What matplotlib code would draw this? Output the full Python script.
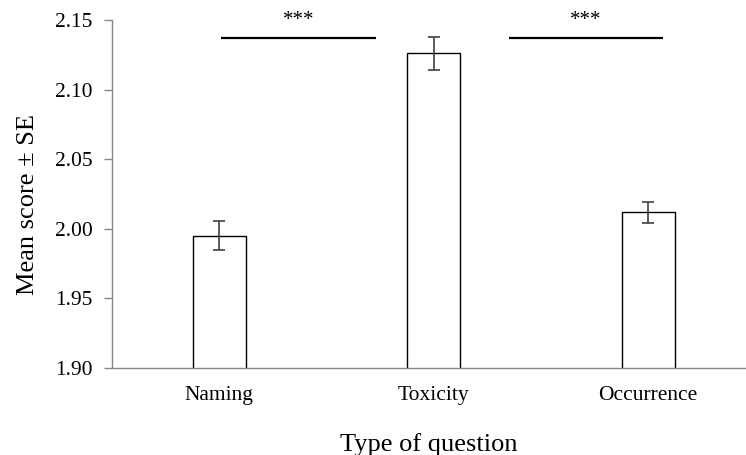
import matplotlib.pyplot as plt
import numpy as np

categories = ['Naming', 'Toxicity', 'Occurrence']
means = [1.995, 2.126, 2.012]
se = [0.0105, 0.012, 0.0075]
# significance bars: (x start, x end) at common height
sig_x = [(0.01, 0.73), (1.35, 2.07)]
sig_y = 2.137
sig_label = '***'

plt.rcParams['font.family'] = ['Liberation Serif', 'DejaVu Serif']

fig = plt.figure(figsize=(7.46, 4.55), dpi=100)
ax = fig.add_axes([0.150, 0.191, 0.850, 0.765])

x = np.arange(len(categories))
ax.bar(x, means, width=0.247, color='white', edgecolor='black', linewidth=1, zorder=2)
ax.errorbar(x, means, yerr=se, fmt='none', ecolor='#404040', elinewidth=1.2,
            capsize=4, capthick=1.2, zorder=3)

for x0, x1 in sig_x:
    ax.plot([x0, x1], [sig_y, sig_y], color='black', lw=1.6, solid_capstyle='butt')
    ax.text((x0 + x1) / 2, sig_y + 0.006, sig_label, ha='center', va='bottom', fontsize=15)

ax.set_ylim(1.90, 2.15)
ax.set_xlim(-0.5, 2.456)
yt = [1.90, 1.95, 2.00, 2.05, 2.10, 2.15]
ax.set_yticks(yt)
ax.set_yticklabels(['%.2f' % v for v in yt], fontsize=15.5)
ax.set_xticks(x)
ax.set_xticklabels(categories, fontsize=15.5)
ax.tick_params(axis='x', length=0, pad=13)
ax.tick_params(axis='y', length=6, color='#888888', width=1, pad=8)

for s in ['top', 'right']:
    ax.spines[s].set_visible(False)
for s in ['left', 'bottom']:
    ax.spines[s].set_color('#888888')
    ax.spines[s].set_linewidth(1)

ax.set_ylabel('Mean score \u00b1 SE', fontsize=19, labelpad=11)
ax.yaxis.label.set_y(0.47)
ax.set_xlabel('Type of question', fontsize=19, labelpad=20)

plt.savefig('out.png', dpi=100)
